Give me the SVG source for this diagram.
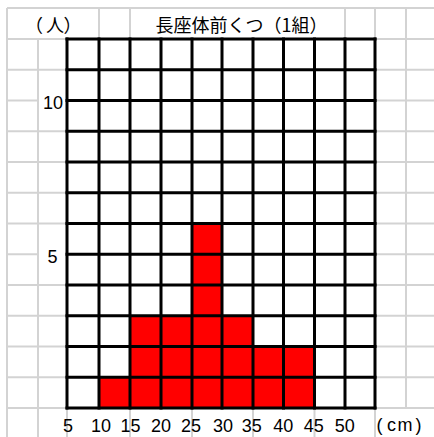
<svg xmlns="http://www.w3.org/2000/svg" width="434" height="437" viewBox="0 0 434 437">
<style>
.g{stroke:#d3d3d3;stroke-width:2;fill:none}
.k{stroke:#000;stroke-width:3;fill:none;stroke-linecap:square}
.bar{fill:#ff0000}
.num{font-family:"Liberation Sans","Noto Sans CJK JP",sans-serif;font-size:18px;fill:#000}
.jp{font-family:"Noto Sans CJK JP","Liberation Sans",sans-serif;fill:#000}
</style>
<rect width="434" height="437" fill="#fff"/>
<g id="paper-grid" class="g">
<path d="M7 8H434M7 39H434M7 8V437M38 39V437M99 8V39M130 8V39M345 8V39M375 8V437M406 8V408"/>
<path d="M7 69.75H67M7 100.5H38M7 131.25H67M7 162H67M7 192.75H67M7 223.5H67M7 254.25H38M7 285H67M7 315.75H67M7 346.5H67M7 377.25H67M7 408H434"/>
<path d="M375 69.75H434M375 100.5H434M375 131.25H434M375 162H434M375 192.75H434M375 223.5H434M375 254.25H434M375 285H434M375 315.75H434M375 346.5H434M375 377.25H434"/>
<path d="M67 408V437M130 408V437M192 408V437M253 408V437M314.5 408V437"/>
</g>
<g id="bars">
<rect class="bar" x="99" y="377.25" width="31" height="30.75"/>
<rect class="bar" x="130" y="315.75" width="31" height="92.25"/>
<rect class="bar" x="161" y="315.75" width="31" height="92.25"/>
<rect class="bar" x="192" y="223.5" width="30" height="184.5"/>
<rect class="bar" x="222" y="315.75" width="31" height="92.25"/>
<rect class="bar" x="253" y="346.5" width="30.5" height="61.5"/>
<rect class="bar" x="283.5" y="346.5" width="31" height="61.5"/>
</g>
<g id="chart-grid" class="k">
<path d="M67 39V408M99 39V408M130 39V408M161 39V408M192 39V408M222 39V408M253 39V408M283.5 39V408M314.5 39V408M345 39V408M375 39V408"/>
<path d="M67 39H375M67 69.75H375M67 100.5H375M67 131.25H375M67 162H375M67 192.75H375M67 223.5H375M67 254.25H375M67 285H375M67 315.75H375M67 346.5H375M67 377.25H375M67 408H375"/>
</g>
<g id="labels">
<text class="jp" x="25 46 63.5" y="32" font-size="18">（人）</text>
<text class="jp" x="241.5" y="31.5" font-size="18" text-anchor="middle">長座体前くつ（1組）</text>
<text class="num" x="53" y="109.3" font-size="19" text-anchor="middle">10</text>
<text class="num" x="52.5" y="262.5" font-size="19" text-anchor="middle">5</text>
<g text-anchor="middle">
<text class="num" x="68" y="431.5">5</text>
<text class="num" x="101" y="431.5">10</text>
<text class="num" x="130.5" y="431.5">15</text>
<text class="num" x="161" y="431.5">20</text>
<text class="num" x="191" y="431.5">25</text>
<text class="num" x="223" y="431.5">30</text>
<text class="num" x="251.7" y="431.5">35</text>
<text class="num" x="283.3" y="431.5">40</text>
<text class="num" x="313.7" y="431.5">45</text>
<text class="num" x="344.8" y="431.5">50</text>
</g>
<text class="num" x="376.5 387 397.5 415.5" y="430.5">(cm)</text>
</g>
</svg>
